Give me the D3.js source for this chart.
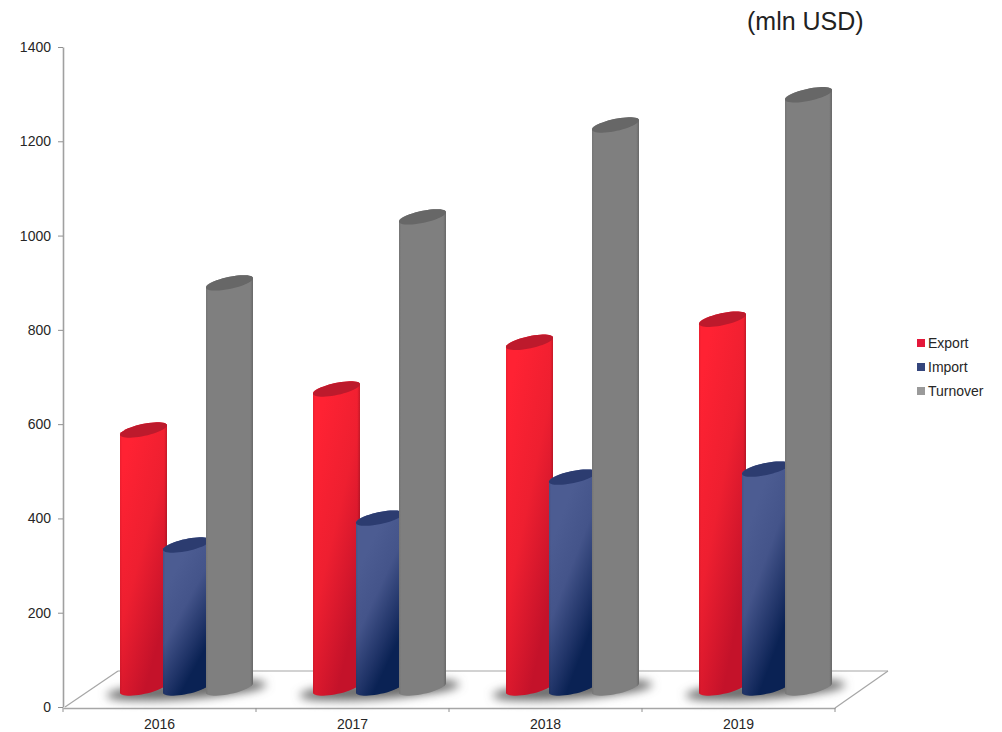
<!DOCTYPE html>
<html><head><meta charset="utf-8">
<script src="https://cdn.jsdelivr.net/npm/d3@7"></script>
<style>html,body{margin:0;padding:0;background:#fff}svg{display:block}text{font-family:"Liberation Sans",Arial,sans-serif}</style>
</head><body><div id="chart"></div>
<script>
const years=["2016","2017","2018","2019"];
const seriesNames=["Export","Import","Turnover"];
const exportValues=[577,664,763,812];
const importValues=[333,390,477,494];
const turnoverValues=[889,1029,1224,1288];
const yTicks=[0,200,400,600,800,1000,1200,1400];
const seriesValues=[exportValues,importValues,turnoverValues];

const W=1002,H=732;
const svg=d3.select("#chart").append("svg").attr("width",W).attr("height",H);
const defs=svg.append("defs");
const grad=(id,x1,y1,x2,y2,stops)=>{const g=defs.append("linearGradient").attr("id",id).attr("x1",x1).attr("y1",y1).attr("x2",x2).attr("y2",y2);
 stops.forEach(s=>g.append("stop").attr("offset",s[0]).attr("stop-color",s[1]).attr("stop-opacity",s[2]===undefined?1:s[2]));};
grad("g0",0,.2,.5,1,[[0,"#ff2233"],[.5,"#ee1f30"],[1,"#c4122a"]]);
grad("g1",0,.35,.35,1,[[0,"#4c5c92"],[.4,"#44548a"],[.8,"#1f3367"],[1,"#0a2254"]]);
grad("g2",0,0,1,0,[[0,"#7f7f7f"],[1,"#7f7f7f"]]);
grad("edge",0,0,1,0,[[0,"#000",.08],[.05,"#000",0],[.94,"#000",0],[1,"#000",.18]]);
defs.append("filter").attr("id","soft").attr("x","-30%").attr("y","-100%").attr("width","160%").attr("height","300%")
  .append("feGaussianBlur").attr("stdDeviation",5);

const y=d3.scaleLinear().domain([0,1400]).range([707,47]);
const x0=d3.scaleBand().domain(years).range([63,835]);
const x1=d3.scaleBand().domain(seriesNames).range([57,186]);
const barW=x1.bandwidth()*47/43;
const tilt=5, ry=6, baseLift=17;
const phi=Math.atan2(tilt*2,barW);
const rx=barW/2/Math.cos(phi);
const topColors=["#bd1a2c","#2c3c70","#676767"];
const axisGray="#a6a6a6";

// floor
const floorBack=y(0)-36, depth=53;
const floor=svg.append("g").attr("fill","none").attr("stroke",axisGray).attr("stroke-width",1.2);
floor.append("line").attr("x1",x0.range()[0]+depth+2).attr("x2",x0.range()[1]+depth).attr("y1",floorBack).attr("y2",floorBack);
floor.append("line").attr("x1",x0.range()[0]+2).attr("x2",x0.range()[0]+depth+2).attr("y1",y(0)).attr("y2",floorBack);
floor.append("line").attr("x1",x0.range()[1]).attr("x2",x0.range()[1]+depth).attr("y1",y(0)+1).attr("y2",floorBack);

// axes
const gy=svg.append("g").attr("transform",`translate(${x0.range()[0]},0)`)
  .call(d3.axisLeft(y).tickValues(yTicks).tickFormat(d3.format("d")).tickSize(5).tickPadding(7).tickSizeOuter(0));
gy.select(".domain").attr("stroke","#a0a0a0").attr("stroke-width",1.6);
gy.selectAll(".tick line").attr("stroke","#909090");
gy.selectAll("text").attr("font-size",14).attr("fill","#262626").attr("font-family",'"Liberation Sans"');

const gx=svg.append("g").attr("transform",`translate(0,${y(0)+1})`)
  .call(d3.axisBottom(x0).tickSize(0).tickPadding(11));
gx.select(".domain").attr("stroke",axisGray).attr("stroke-width",1.4);
gx.selectAll("text").attr("font-size",14).attr("fill","#262626").attr("font-family",'"Liberation Sans"');
const bounds=years.map(d=>x0(d)).concat([x0.range()[1]]);
gx.selectAll("line.sep").data(bounds).join("line").attr("class","sep")
  .attr("x1",d=>d).attr("x2",d=>d).attr("y1",0).attr("y2",4).attr("stroke","#909090");

// shadows
svg.append("g").selectAll("ellipse").data(years).join("ellipse")
  .attr("cx",0).attr("cy",0).attr("rx",80).attr("ry",9)
  .attr("transform",d=>`translate(${x0(d)+x1.range()[0]+x1.step()*1.5+2},${y(0)-17}) rotate(-4)`)
  .attr("fill","#6a6a6a").attr("filter","url(#soft)");

// cylinders: outline sampled from a tilted ellipse
const ts0=d3.range(0,25).map(i=>i/24*Math.PI);
function ell(cx,cy,t){
  const ex=rx*Math.cos(t), ey=ry*Math.sin(t);
  return [cx+ex*Math.cos(phi)+ey*Math.sin(phi), cy-ex*Math.sin(phi)+ey*Math.cos(phi)];
}
const poly=d3.line();
function bodyPath(left,topCy){
  const cx=left+barW/2, base=y(0)-baseLift-2;
  const bottom=ts0.map(t=>ell(cx,base,Math.PI-t));
  const top=ts0.map(t=>ell(cx,topCy,Math.PI+t));
  return poly(bottom.concat(top.reverse()))+"Z";
}
function capPath(left,topCy){
  const cx=left+barW/2;
  return poly(d3.range(0,49).map(i=>ell(cx,topCy,i/48*2*Math.PI)))+"Z";
}
const rows=years.flatMap((yr,i)=>seriesNames.map((s,k)=>({yr,s,k,v:seriesValues[k][i]})));
const bars=svg.append("g").selectAll("g").data(rows).join("g");
bars.append("path").attr("d",d=>bodyPath(x0(d.yr)+x1(d.s),y(d.v)-tilt)).attr("fill",d=>`url(#g${d.k})`);
bars.append("path").attr("d",d=>bodyPath(x0(d.yr)+x1(d.s),y(d.v)-tilt)).attr("fill","url(#edge)");
bars.append("path").attr("d",d=>capPath(x0(d.yr)+x1(d.s),y(d.v)-tilt)).attr("fill",d=>topColors[d.k]);

// legend
const legendY=d3.scalePoint().domain(seriesNames).range([343,391]);
const legendColors=["#e4173a","#34457c","#9a9a9a"];
const lg=svg.append("g").selectAll("g").data(seriesNames).join("g")
  .attr("transform",d=>`translate(917,${legendY(d)})`);
lg.append("rect").attr("x",0).attr("y",-4).attr("width",8).attr("height",8).attr("fill",(d,i)=>legendColors[i]);
lg.append("text").attr("x",11).attr("y",5).attr("font-size",14).attr("fill","#262626").text(d=>d);

// unit
svg.append("text").attr("x",747).attr("y",30).attr("font-size",25).attr("fill","#222").text("(mln USD)");
</script></body></html>
